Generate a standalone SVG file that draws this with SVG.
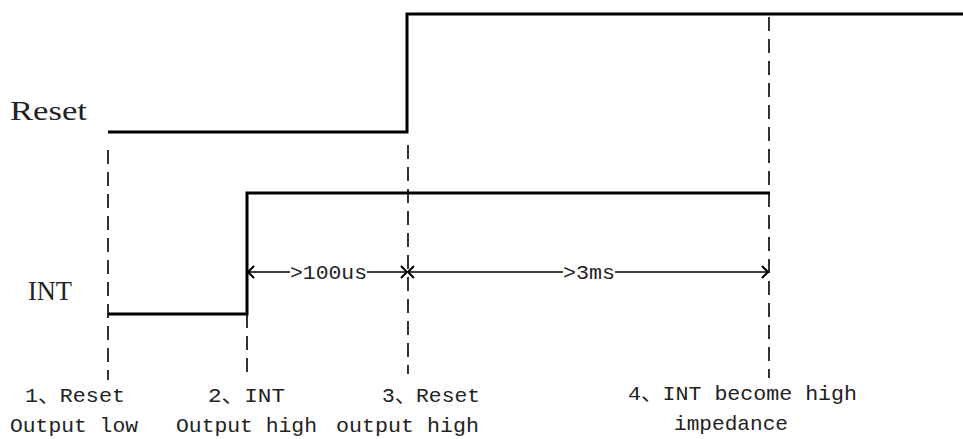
<svg xmlns="http://www.w3.org/2000/svg" width="963" height="439" viewBox="0 0 963 439">
<style>
.sig{fill:none;stroke:#000;stroke-width:3}
.dash{fill:none;stroke:#000;stroke-width:1.6;stroke-dasharray:14 8}
.arr{fill:none;stroke:#000;stroke-width:1.4}
.head{fill:none;stroke:#000;stroke-width:2}
.name{font-family:"Liberation Serif","DejaVu Serif",serif;font-size:27px;fill:#222}
.lbl{font-family:"Liberation Mono","Noto Sans CJK SC",monospace;font-size:21px;fill:#222}
.dur{font-family:"Liberation Mono","Noto Sans CJK SC",monospace;font-size:21px;fill:#222}
</style>
<rect width="963" height="439" fill="#fff"/>
<g id="reset">
<text class="name" x="10" y="120" textLength="77" lengthAdjust="spacingAndGlyphs">Reset</text>
<polyline class="sig" points="108,132 407,132 407,14 963,14"/>
</g>
<g id="int">
<text class="name" x="28" y="300" textLength="44" lengthAdjust="spacingAndGlyphs">INT</text>
<polyline class="sig" points="108,314 247,314 247,193 770,193"/>
</g>
<g id="connectors">
<line class="dash" x1="108" y1="150" x2="108" y2="380"/>
<line class="dash" x1="247" y1="314" x2="247" y2="374"/>
<line class="dash" x1="408" y1="145" x2="408" y2="374"/>
<line class="dash" x1="769" y1="17" x2="769" y2="378"/>
<line class="arr" x1="248" y1="272" x2="290" y2="272"/>
<line class="arr" x1="367" y1="272" x2="407" y2="272"/>
<line class="arr" x1="408" y1="272" x2="563" y2="272"/>
<line class="arr" x1="615" y1="272" x2="768" y2="272"/>
<polyline class="head" points="254,266 248,272 254,278"/>
<polyline class="head" points="401,266 407,272 401,278"/>
<polyline class="head" points="414,266 408,272 414,278"/>
<polyline class="head" points="762,266 768,272 762,278"/>
</g>
<g id="durations">
<text class="dur" x="290" y="279" textLength="77" lengthAdjust="spacingAndGlyphs">&gt;100us</text>
<text class="dur" x="563" y="279" textLength="52" lengthAdjust="spacingAndGlyphs">&gt;3ms</text>
</g>
<g id="step1">
<text class="lbl" x="25" y="402" textLength="100" lengthAdjust="spacingAndGlyphs">1、Reset</text>
<text class="lbl" x="10" y="432" textLength="128" lengthAdjust="spacingAndGlyphs">Output low</text>
</g>
<g id="step2">
<text class="lbl" x="208" y="402" textLength="77" lengthAdjust="spacingAndGlyphs">2、INT</text>
<text class="lbl" x="176" y="432" textLength="141" lengthAdjust="spacingAndGlyphs">Output high</text>
</g>
<g id="step3">
<text class="lbl" x="382" y="402" textLength="98" lengthAdjust="spacingAndGlyphs">3、Reset</text>
<text class="lbl" x="336" y="432" textLength="143" lengthAdjust="spacingAndGlyphs">output high</text>
</g>
<g id="step4">
<text class="lbl" x="628" y="400" textLength="229" lengthAdjust="spacingAndGlyphs">4、INT become high</text>
<text class="lbl" x="674" y="430" textLength="114" lengthAdjust="spacingAndGlyphs">impedance</text>
</g>
</svg>
